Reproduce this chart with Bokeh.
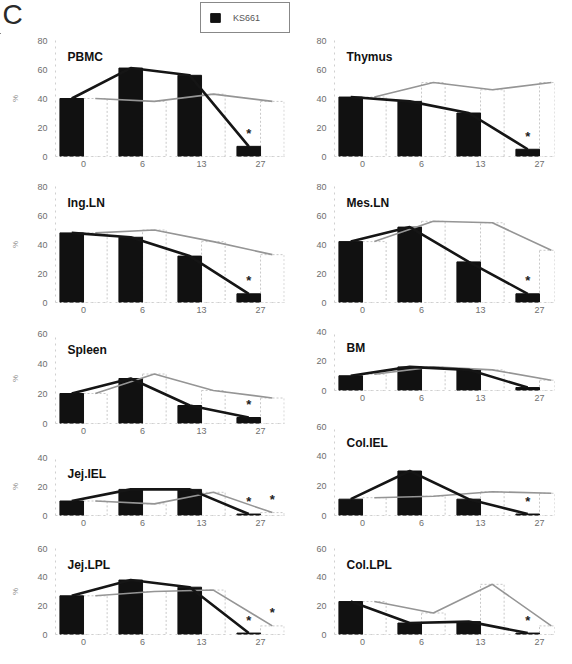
from bokeh.plotting import figure
from bokeh.layouts import column, row
from bokeh.models import ColumnDataSource, FixedTicker, Label, Legend, LegendItem, Range1d
from bokeh.transform import dodge
from bokeh.core.properties import value
from bokeh.embed import file_html
from bokeh.resources import INLINE

# ---------------- data ----------------
days = ["0", "6", "13", "27"]
series_label = "KS661"
panel_letter = "C"

pbmc_ks = [40, 61, 56, 7]
pbmc_ctrl = [40, 38, 43, 38]
thymus_ks = [41, 38, 30, 5]
thymus_ctrl = [41, 51, 46, 51]
ingln_ks = [48, 45, 32, 6]
ingln_ctrl = [48, 50, 42, 33]
mesln_ks = [42, 52, 28, 6]
mesln_ctrl = [42, 56, 55, 36]
spleen_ks = [20, 30, 12, 4]
spleen_ctrl = [20, 33, 22, 17]
bm_ks = [10, 16, 14, 2]
bm_ctrl = [11, 16, 14, 7]
jejiel_ks = [10, 18, 18, 1]
jejiel_ctrl = [10, 8, 16, 2]
coliel_ks = [11, 30, 11, 1]
coliel_ctrl = [12, 13, 16, 15]
jejlpl_ks = [27, 38, 33, 1]
jejlpl_ctrl = [27, 30, 31, 6]
collpl_ks = [23, 8, 9, 1]
collpl_ctrl = [23, 15, 35, 6]

# y-axis maxima
pbmc_ymax, thymus_ymax, ingln_ymax, mesln_ymax = 80, 80, 80, 80
spleen_ymax, bm_ymax, jejiel_ymax, coliel_ymax = 60, 40, 40, 60
jejlpl_ymax, collpl_ymax = 60, 60

# significance markers (per time point)
pbmc_sig_ks = [0, 0, 0, 1]
thymus_sig_ks = [0, 0, 0, 1]
ingln_sig_ks = [0, 0, 0, 1]
mesln_sig_ks = [0, 0, 0, 1]
spleen_sig_ks = [0, 0, 0, 1]
bm_sig_ks = [0, 0, 0, 0]
jejiel_sig_ks = [0, 0, 0, 1]
coliel_sig_ks = [0, 0, 0, 1]
jejlpl_sig_ks = [0, 0, 0, 1]
collpl_sig_ks = [0, 0, 0, 1]
jejiel_sig_ctrl = [0, 0, 0, 1]
jejlpl_sig_ctrl = [0, 0, 0, 1]
no_sig = [0, 0, 0, 0]

FONT = "Liberation Sans"
TICK_COL = "#6e6e6e"
KS_COLOR = "#111111"


def make_panel(name, ks, ctrl, ymax, sig_ks, sig_ctrl, side, height, top, bottom):
    if side == "left":
        width, bl, br, x_end = 292, 55, 8, 3.406
    else:
        width, bl, br, x_end = 264, 42, 2, 3.254
    p = figure(width=width, height=height, output_backend="svg", toolbar_location=None,
               x_range=Range1d(-0.475, x_end), y_range=Range1d(0, ymax),
               min_border_left=bl, min_border_right=br, min_border_top=top,
               min_border_bottom=bottom)
    p.outline_line_color = None
    p.grid.visible = False
    p.background_fill_color = "white"
    p.border_fill_color = "white"

    idx = list(range(len(days)))
    src = ColumnDataSource(dict(idx=idx, ks=ks, ctrl=ctrl))

    p.vbar(x=dodge("idx", 0.2, range=p.x_range), top="ctrl", width=0.4, source=src,
           fill_color="white", line_color="#c8c8c8", line_dash="2 2", line_width=1)
    p.vbar(x=dodge("idx", -0.2, range=p.x_range), top="ks", width=0.4, source=src,
           fill_color=KS_COLOR, line_color=KS_COLOR)
    p.line(x=dodge("idx", 0.2, range=p.x_range), y="ctrl", source=src,
           line_color="#959595", line_width=1.6)
    p.line(x=dodge("idx", -0.2, range=p.x_range), y="ks", source=src,
           line_color="#151515", line_width=2.6)

    sk = [i for i in idx if sig_ks[i]]
    if sk:
        s1 = ColumnDataSource(dict(idx=sk, y=[ks[i] for i in sk], t=["*"] * len(sk)))
        p.text(x=dodge("idx", -0.2, range=p.x_range), y="y", text="t", source=s1,
               text_align="center", text_baseline="middle", y_offset=-13,
               text_font=value(FONT), text_font_size="13px", text_font_style="bold",
               text_color="#222222")
    sc = [i for i in idx if sig_ctrl[i]]
    if sc:
        s2 = ColumnDataSource(dict(idx=sc, y=[ctrl[i] for i in sc], t=["*"] * len(sc)))
        p.text(x=dodge("idx", 0.2, range=p.x_range), y="y", text="t", source=s2,
               text_align="center", text_baseline="middle", y_offset=-13,
               text_font=value(FONT), text_font_size="13px", text_font_style="bold",
               text_color="#222222")

    # axes
    p.yaxis.ticker = FixedTicker(ticks=list(range(0, ymax + 1, 20)))
    p.xaxis.ticker = FixedTicker(ticks=idx)
    p.xaxis.major_label_overrides = {i: d for i, d in enumerate(days)}
    for ax in (p.xaxis[0], p.yaxis[0]):
        ax.major_tick_out = 0
        ax.major_tick_in = 0
        ax.minor_tick_out = 0
        ax.minor_tick_in = 0
        ax.axis_line_color = "#cfcfcf"
        ax.axis_line_dash = "dotted"
        ax.major_label_text_font = FONT
        ax.major_label_text_font_size = "9px"
        ax.major_label_text_color = TICK_COL
    p.yaxis.major_label_standoff = 8
    p.xaxis.major_label_standoff = 4
    if side == "left":
        p.yaxis.axis_label = "%"
        p.yaxis.axis_label_text_font = FONT
        p.yaxis.axis_label_text_font_size = "8px"
        p.yaxis.axis_label_text_font_style = "normal"
        p.yaxis.axis_label_text_color = "#8a8a8a"
        p.yaxis.axis_label_standoff = 14

    frame_h = height - top - bottom
    p.add_layout(Label(x=12, y=frame_h - 16, x_units="screen", y_units="screen", text=name,
                       text_font=FONT, text_font_size="12px", text_font_style="bold",
                       text_baseline="middle", text_color="#111111"))
    return p


# ---------------- header: panel letter and legend ----------------
HEADER_H = 34
header = figure(width=556, height=HEADER_H, output_backend="svg", toolbar_location=None,
                x_range=Range1d(0, 556), y_range=Range1d(0, HEADER_H),
                min_border=0, min_border_left=0, min_border_right=0,
                min_border_top=0, min_border_bottom=0)
header.axis.visible = False
header.grid.visible = False
header.outline_line_color = None
header.background_fill_color = "white"
header.border_fill_color = "white"
# legend key renderer: a KS661-styled bar kept outside the header's visible range
legend_bar = header.vbar(x=[-1000], top=[1], width=1, fill_color=KS_COLOR, line_color=KS_COLOR)
header.add_layout(Label(x=2, y=5, x_units="screen", y_units="screen", text=panel_letter,
                        text_font=FONT, text_font_size="28px", text_color="#2a2a2a"))
leg = Legend(items=[LegendItem(label=series_label, renderers=[legend_bar])],
             location=(200, 1))
leg.border_line_color = "#111111"
leg.border_line_width = 1.8
leg.background_fill_color = "white"
leg.background_fill_alpha = 1.0
leg.padding = 8
leg.margin = 0
leg.spacing = 0
leg.glyph_width = 12
leg.glyph_height = 11
leg.label_standoff = 12
leg.label_width = 48
leg.label_height = 13
leg.label_text_font = FONT
leg.label_text_font_size = "9px"
leg.label_text_color = "#555555"
header.add_layout(leg)

left = column(
    make_panel("PBMC", pbmc_ks, pbmc_ctrl, pbmc_ymax, pbmc_sig_ks, no_sig, "left", 142, 6, 20),
    make_panel("Ing.LN", ingln_ks, ingln_ctrl, ingln_ymax, ingln_sig_ks, no_sig, "left", 147, 10, 21),
    make_panel("Spleen", spleen_ks, spleen_ctrl, spleen_ymax, spleen_sig_ks, no_sig, "left", 124, 10, 24),
    make_panel("Jej.IEL", jejiel_ks, jejiel_ctrl, jejiel_ymax, jejiel_sig_ks, jejiel_sig_ctrl, "left", 91, 10, 23),
    make_panel("Jej.LPL", jejlpl_ks, jejlpl_ctrl, jejlpl_ymax, jejlpl_sig_ks, jejlpl_sig_ctrl, "left", 110, 10, 14),
)
right = column(
    make_panel("Thymus", thymus_ks, thymus_ctrl, thymus_ymax, thymus_sig_ks, no_sig, "right", 142, 6, 20),
    make_panel("Mes.LN", mesln_ks, mesln_ctrl, mesln_ymax, mesln_sig_ks, no_sig, "right", 145, 10, 19),
    make_panel("BM", bm_ks, bm_ctrl, bm_ymax, bm_sig_ks, no_sig, "right", 95, 10, 26),
    make_panel("Col.IEL", coliel_ks, coliel_ctrl, coliel_ymax, coliel_sig_ks, no_sig, "right", 122, 10, 23),
    make_panel("Col.LPL", collpl_ks, collpl_ctrl, collpl_ymax, collpl_sig_ks, no_sig, "right", 110, 10, 14),
)
layout = column(header, row(left, right))

open("out.html", "w").write(file_html(layout, INLINE))
